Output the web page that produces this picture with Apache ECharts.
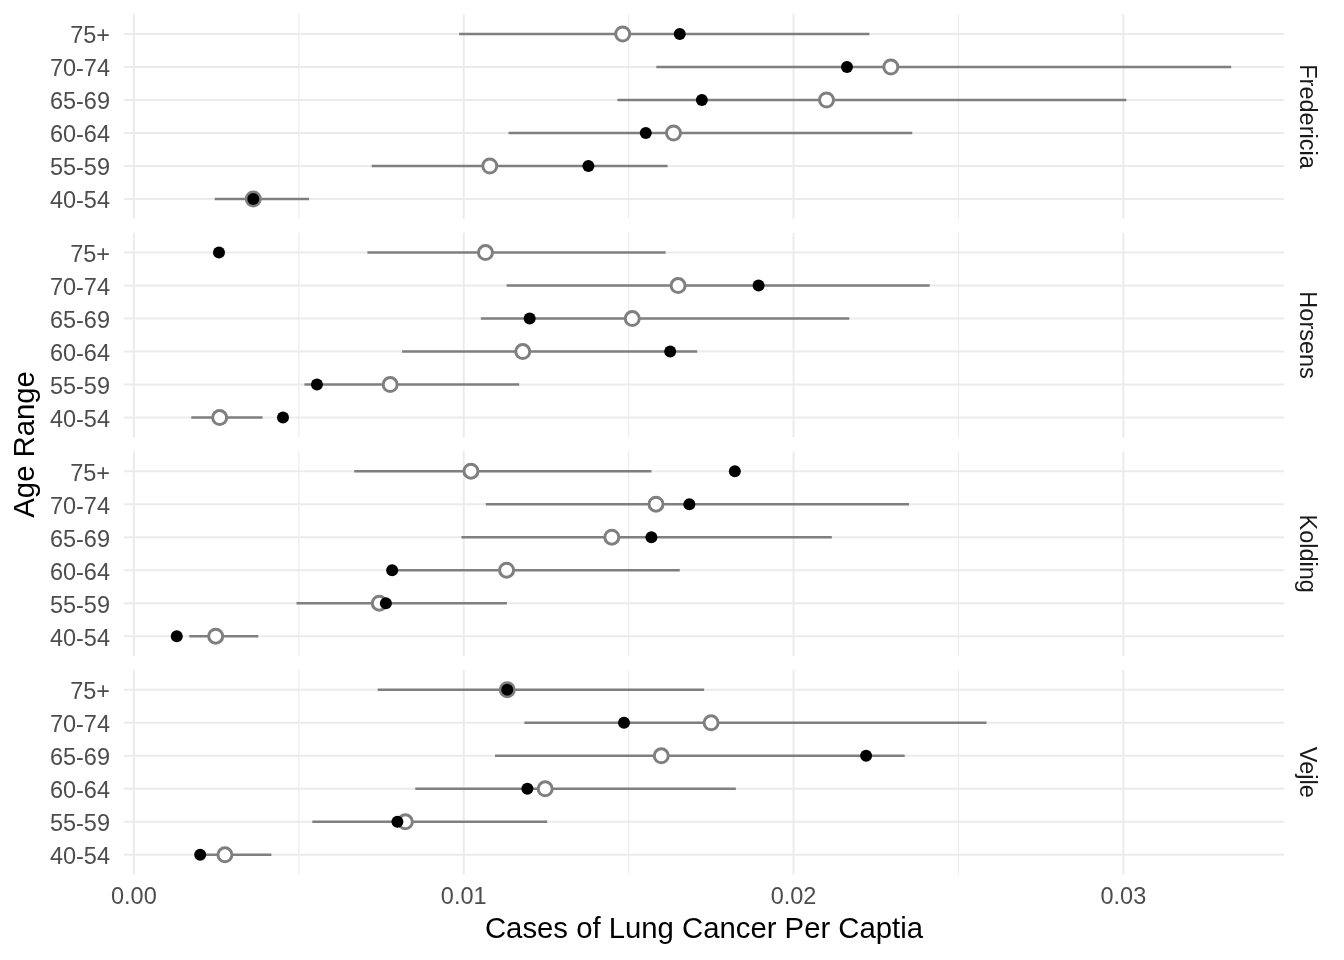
<!DOCTYPE html>
<html>
<head>
<meta charset="utf-8">
<script src="https://cdn.jsdelivr.net/npm/echarts@6/dist/echarts.min.js"></script>
<style>html,body{margin:0;padding:0;background:#fff}#c{width:1344px;height:960px}</style>
</head>
<body>
<div id="c"></div>
<script>
// Age groups, bottom to top
const ageGroups = ['40-54', '55-59', '60-64', '65-69', '70-74', '75+'];
const cities = ['Fredericia', 'Horsens', 'Kolding', 'Vejle'];

const fredericiaObserved = [0.00362, 0.01378, 0.01552, 0.01722, 0.02162, 0.01655];
const fredericiaExpected = [0.00362, 0.01079, 0.01636, 0.02100, 0.02295, 0.01482];
const fredericiaLower    = [0.00245, 0.00721, 0.01136, 0.01466, 0.01584, 0.00986];
const fredericiaUpper    = [0.00531, 0.01618, 0.02360, 0.03009, 0.03327, 0.02230];

const horsensObserved = [0.00452, 0.00555, 0.01626, 0.01200, 0.01894, 0.00258];
const horsensExpected = [0.00260, 0.00777, 0.01179, 0.01511, 0.01650, 0.01066];
const horsensLower    = [0.00174, 0.00517, 0.00813, 0.01052, 0.01130, 0.00708];
const horsensUpper    = [0.00390, 0.01168, 0.01708, 0.02169, 0.02413, 0.01612];

const koldingObserved = [0.00130, 0.00764, 0.00783, 0.01569, 0.01684, 0.01822];
const koldingExpected = [0.00248, 0.00744, 0.01130, 0.01449, 0.01583, 0.01022];
const koldingLower    = [0.00168, 0.00493, 0.00790, 0.00993, 0.01067, 0.00668];
const koldingUpper    = [0.00377, 0.01131, 0.01655, 0.02116, 0.02350, 0.01569];

const vejleObserved = [0.00201, 0.00799, 0.01193, 0.02220, 0.01486, 0.01132];
const vejleExpected = [0.00276, 0.00823, 0.01247, 0.01599, 0.01750, 0.01132];
const vejleLower    = [0.00190, 0.00541, 0.00853, 0.01095, 0.01184, 0.00739];
const vejleUpper    = [0.00417, 0.01253, 0.01825, 0.02337, 0.02585, 0.01729];

const xMajorTicks = [0, 0.01, 0.02, 0.03];
const xMinorTicks = [0.005, 0.015, 0.025];

const cityData = [
  {observed: fredericiaObserved, expected: fredericiaExpected, lower: fredericiaLower, upper: fredericiaUpper},
  {observed: horsensObserved, expected: horsensExpected, lower: horsensLower, upper: horsensUpper},
  {observed: koldingObserved, expected: koldingExpected, lower: koldingLower, upper: koldingUpper},
  {observed: vejleObserved, expected: vejleExpected, lower: vejleLower, upper: vejleUpper}
];

const FONT = '"Liberation Sans", Arial, Helvetica, sans-serif';
const panelTop = [14.2, 232.8, 451.4, 670];
const panelH = 204.6;
const panelLeft = 124, panelW = 1160;

const gridItems = [];
xMajorTicks.forEach(v => gridItems.push({dir: 'v', v: v, w: 2}));
xMinorTicks.forEach(v => gridItems.push({dir: 'v', v: v, w: 1.1}));
ageGroups.forEach((g, k) => gridItems.push({dir: 'h', v: k, w: 2}));

const grid = [], xAxis = [], yAxis = [], series = [], graphic = [];

cities.forEach((city, i) => {
  const d = cityData[i];
  grid.push({left: panelLeft, width: panelW, top: panelTop[i], height: panelH});
  xAxis.push({
    type: 'value', gridIndex: i, min: -0.0003, max: 0.03487, splitNumber: 4,
    axisLine: {show: false}, axisTick: {show: false}, splitLine: {show: false},
    axisLabel: {
      show: i === cities.length - 1, margin: 11, color: '#4D4D4D', fontSize: 23.5, fontFamily: FONT,
      formatter: v => { const k = v / 0.01; return Math.abs(k - Math.round(k)) < 1e-6 ? v.toFixed(2) : ''; }
    }
  });
  yAxis.push({
    type: 'value', gridIndex: i, min: -0.6, max: 5.6, splitNumber: 6,
    axisLine: {show: false}, axisTick: {show: false}, splitLine: {show: false},
    axisLabel: {
      margin: 14, color: '#4D4D4D', fontSize: 23.5, fontFamily: FONT,
      rich: {a: {color: '#4D4D4D', fontSize: 23.5, fontFamily: FONT, padding: [6, 0, 0, 0]}},
      formatter: v => { const k = Math.round(v); return (Math.abs(v - k) < 1e-6 && ageGroups[k] !== undefined) ? '{a|' + ageGroups[k] + '}' : ''; }
    }
  });
  // gridlines
  series.push({
    type: 'custom', xAxisIndex: i, yAxisIndex: i, z: 1, silent: true,
    data: gridItems.map(g => [g.dir === 'v' ? g.v : 0.01, g.dir === 'h' ? g.v : 2]),
    renderItem: (params, api) => {
      const g = gridItems[params.dataIndex];
      const cs = params.coordSys;
      if (g.dir === 'v') {
        const x = api.coord([g.v, 0])[0];
        return {type: 'line', shape: {x1: x, y1: cs.y, x2: x, y2: cs.y + cs.height}, style: {stroke: '#EBEBEB', lineWidth: g.w}};
      }
      const y = api.coord([0, g.v])[1];
      return {type: 'line', shape: {x1: cs.x, y1: y, x2: cs.x + cs.width, y2: y}, style: {stroke: '#EBEBEB', lineWidth: g.w}};
    }
  });
  // interval bars
  series.push({
    type: 'custom', xAxisIndex: i, yAxisIndex: i, z: 10, silent: true,
    data: ageGroups.map((g, k) => [d.lower[k], d.upper[k], k]),
    encode: {x: [0, 1], y: 2},
    renderItem: (params, api) => {
      const p1 = api.coord([api.value(0), api.value(2)]);
      const p2 = api.coord([api.value(1), api.value(2)]);
      return {type: 'line', shape: {x1: p1[0], y1: p1[1], x2: p2[0], y2: p2[1]}, style: {stroke: '#7F7F7F', lineWidth: 2.5}};
    }
  });
  // expected (open circles)
  series.push({
    type: 'scatter', xAxisIndex: i, yAxisIndex: i, z: 11, silent: true,
    symbol: 'circle', symbolSize: 14,
    itemStyle: {color: '#FFFFFF', borderColor: '#7F7F7F', borderWidth: 3, opacity: 1},
    data: d.expected.map((v, k) => [v, k])
  });
  // observed (black dots)
  series.push({
    type: 'scatter', xAxisIndex: i, yAxisIndex: i, z: 12, silent: true,
    symbol: 'circle', symbolSize: 12,
    itemStyle: {color: '#000000', opacity: 1},
    data: d.observed.map((v, k) => [v, k])
  });
  graphic.push({
    type: 'text', x: 1306, y: panelTop[i] + panelH / 2, rotation: -Math.PI / 2,
    style: {text: city, fontSize: 23.5, fontFamily: FONT, fill: '#1A1A1A', align: 'center', verticalAlign: 'middle'}
  });
});

graphic.push({
  type: 'text', x: 26, y: (panelTop[0] + panelTop[3] + panelH) / 2, rotation: Math.PI / 2,
  style: {text: 'Age Range', fontSize: 29.3, fontFamily: FONT, fill: '#000000', align: 'center', verticalAlign: 'middle'}
});
graphic.push({
  type: 'text', x: panelLeft + panelW / 2, y: 930,
  style: {text: 'Cases of Lung Cancer Per Captia', fontSize: 29.3, fontFamily: FONT, fill: '#000000', align: 'center', verticalAlign: 'middle'}
});

const chart = echarts.init(document.getElementById('c'), null, {renderer: 'canvas'});
chart.setOption({
  animation: false,
  backgroundColor: '#FFFFFF',
  grid: grid, xAxis: xAxis, yAxis: yAxis, series: series, graphic: graphic
});
</script>
</body>
</html>
